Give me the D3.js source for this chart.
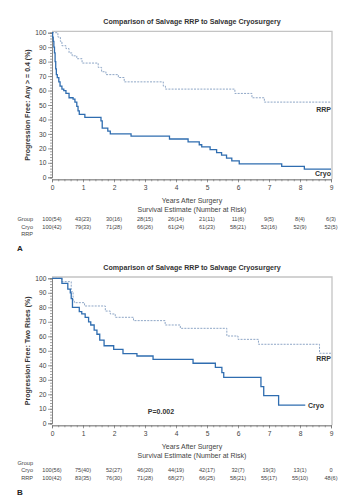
<!DOCTYPE html>
<html><head><meta charset="utf-8">
<script src="https://cdn.jsdelivr.net/npm/d3@7/dist/d3.min.js"></script>
<style>
body{margin:0;background:#fff;}
svg{display:block;font-family:"Liberation Sans",Arial,sans-serif;}
</style></head>
<body>
<svg id="c" width="358" height="500"></svg>
<script>
// ---- data ----
const years = [0,1,2,3,4,5,6,7,8,9];
const yTicks = [0,10,20,30,40,50,60,70,80,90,100];

// Panel A (PSA >= 0.4)
const cryoA = [[0,100],[0.02,97],[0.04,94],[0.06,90],[0.08,86],[0.10,80],[0.12,75],[0.14,71],[0.17,69],[0.22,66],[0.26,63],[0.32,61],[0.38,60],[0.45,58],[0.55,55],[0.68,54],[0.74,52],[0.80,49],[0.84,46],[0.88,43.5],[1.06,41.5],[1.58,39],[1.62,34],[1.8,32],[1.88,30],[2.55,28.5],[3.79,26.5],[4.39,24.5],[4.75,22.5],[4.83,21],[5.1,19.2],[5.31,17.1],[5.47,15.3],[5.63,13.3],[5.8,11.3],[6.04,9.3],[7.41,7.5],[8.14,5.7],[9.0,5.7]];
const rrpA = [[0,100],[0.19,97],[0.27,94],[0.32,91],[0.45,89],[0.55,86],[0.65,84],[0.8,82],[0.97,79],[1.49,76],[1.6,73],[1.74,71],[2.14,69],[2.33,66],[3.59,63],[3.66,61],[5.9,58],[6.45,55],[6.85,52],[9.0,52]];
const riskA_row1 = ["100(54)","43(23)","30(16)","28(15)","26(14)","21(11)","11(6)","9(5)","8(4)","6(3)"];
const riskA_row2 = ["100(42)","79(33)","71(28)","66(26)","61(24)","61(23)","58(21)","52(16)","52(9)","52(5)"];

// Panel B (two rises)
const cryoB = [[0,100],[0.32,96.5],[0.51,92.5],[0.59,90],[0.62,86],[0.66,80],[0.88,77],[0.96,75.4],[1.07,73],[1.18,70],[1.25,67.8],[1.36,64.3],[1.45,61.4],[1.54,57.4],[1.68,53.5],[1.99,51],[2.29,48],[2.74,46.4],[3.26,44.1],[4.55,41.4],[5.27,38.6],[5.48,34.9],[5.54,31.7],[6.74,25.3],[6.83,19.1],[7.31,12.6],[8.17,12.6]];
const rrpB = [[0,100],[0.32,97.7],[0.62,90.8],[0.68,84.3],[0.72,83.2],[1.05,80.9],[1.72,77.4],[1.88,75.4],[2.04,73.1],[2.63,70.8],[3.65,67.8],[4.14,65.5],[5.64,60.2],[6.0,57.9],[6.66,54.5],[8.63,48.3],[9.0,48.3]];
const riskB_cryo = ["100(56)","75(40)","52(27)","46(20)","44(19)","42(17)","32(7)","19(3)","13(1)","0"];
const riskB_rrp = ["100(42)","83(35)","76(30)","71(28)","68(27)","66(25)","58(21)","55(17)","55(10)","48(6)"];

const title = "Comparison of Salvage RRP to Salvage Cryosurgery";
const cryoColor = "#2f6db0", rrpColor = "#8ea6c6";

const svg = d3.select("#c");

function panel(o){
  const x = d3.scaleLinear().domain([0,9]).range([52,331]);
  const y = d3.scaleLinear().domain([0,100]).range([o.y0, o.y100]);
  const g = svg.append("g");
  // title
  g.append("text").attr("x",192).attr("y",o.titleY).attr("text-anchor","middle")
    .attr("font-size",7.1).attr("font-weight","bold").attr("fill","#333").text(title);
  // frame (top, right)
  const top = y(100)-1.3, bot = y(0)+2, right = x(9)+1;
  g.append("path").attr("d",`M${x(0)},${top}H${right}V${bot}`)
    .attr("fill","none").attr("stroke","#c4c4c4").attr("stroke-width",1.3);
  // y axis
  const ya = g.append("g").attr("transform",`translate(${x(0)},0)`);
  ya.call(d3.axisLeft(y).tickValues(d3.range(0,101,2)).tickSize(2).tickFormat(""));
  const yb = g.append("g").attr("transform",`translate(${x(0)},0)`);
  yb.call(d3.axisLeft(y).tickValues(yTicks).tickSize(4).tickPadding(1.5));
  [ya,yb].forEach(a=>{a.select(".domain").attr("stroke","#777").attr("stroke-width",0.7);
    a.selectAll("line").attr("stroke","#777").attr("stroke-width",0.7);
    a.selectAll("text").attr("font-size",6.7).attr("fill","#444").attr("font-family","Liberation Sans, Arial");});
  // x axis
  const xa = g.append("g").attr("transform",`translate(0,${bot})`);
  xa.call(d3.axisBottom(x).tickValues(d3.range(0,9.01,0.2)).tickSize(2).tickFormat(""));
  const xb = g.append("g").attr("transform",`translate(0,${bot})`);
  xb.call(d3.axisBottom(x).tickValues(years).tickSize(3).tickPadding(3));
  [xa,xb].forEach(a=>{a.select(".domain").attr("stroke","#777").attr("stroke-width",0.7);
    a.selectAll("line").attr("stroke","#777").attr("stroke-width",0.7);
    a.selectAll("text").attr("font-size",6.7).attr("fill","#444").attr("font-family","Liberation Sans, Arial");});
  // axis titles
  g.append("text").attr("transform",`translate(30,${(y(0)+y(100))/2}) rotate(-90)`)
    .attr("text-anchor","middle").attr("font-size",7).attr("font-weight","bold").attr("fill","#333").text(o.yTitle);
  g.append("text").attr("x",192).attr("y",o.xt1).attr("text-anchor","middle").attr("font-size",7).attr("fill","#444").text("Years After Surgery");
  g.append("text").attr("x",192).attr("y",o.xt2).attr("text-anchor","middle").attr("font-size",7).attr("fill","#444").text("Survival Estimate (Number at Risk)");
  // curves
  const line = d3.line().x(d=>x(d[0])).y(d=>y(d[1])).curve(d3.curveStepAfter);
  g.append("path").datum(o.rrp).attr("d",line).attr("fill","none").attr("stroke",rrpColor)
    .attr("stroke-width",1).attr("stroke-dasharray","2,1.2");
  g.append("path").datum(o.cryo).attr("d",line).attr("fill","none").attr("stroke",cryoColor)
    .attr("stroke-width",1.3);
  // curve labels
  o.labels.forEach(l=>g.append("text").attr("x",l[0]).attr("y",l[1]).attr("text-anchor","end")
    .attr("font-size",7).attr("font-weight","bold").attr("fill","#333").text(l[2]));
  if(o.p) g.append("text").attr("x",161).attr("y",o.p[1]).attr("text-anchor","middle")
    .attr("font-size",7).attr("font-weight","bold").attr("fill","#333").text(o.p[0]);
  // risk table
  o.rowLabels.forEach(r=>g.append("text").attr("x",33).attr("y",r[1]).attr("text-anchor","end")
    .attr("font-size",5.6).attr("fill","#444").text(r[0]));
  o.rows.forEach(r=>{
    g.selectAll(null).data(r[0]).enter().append("text")
      .attr("x",(d,i)=>x(years[i])).attr("y",r[1]).attr("text-anchor","middle")
      .attr("font-size",5.6).attr("fill","#444").text(d=>d);
  });
  g.append("text").attr("x",17).attr("y",o.letter[1]).attr("font-size",8).attr("font-weight","bold").attr("fill","#222").text(o.letter[0]);
}

panel({y0:177.3,y100:32.7,titleY:23.5,yTitle:"Progression Free: Any > = 0.4 (%)",xt1:202.5,xt2:211.5,
  cryo:cryoA,rrp:rrpA,labels:[[331,112,"RRP"],[331,176,"Cryo"]],
  rowLabels:[["Group",220.8],["Cryo",228.8],["RRP",235.5]],
  rows:[[riskA_row1,220.8],[riskA_row2,228.8]],letter:["A",251]});

panel({y0:423.3,y100:278.3,titleY:270,yTitle:"Progression Free: Two Rises (%)",xt1:448.5,xt2:457.5,
  cryo:cryoB,rrp:rrpB,labels:[[331,361,"RRP"],[324,407.5,"Cryo"]],p:["P=0.002",414],
  rowLabels:[["Group",464.5],["Cryo",471.5],["RRP",479.5]],
  rows:[[riskB_cryo,471.5],[riskB_rrp,479.5]],letter:["B",494.5]});
</script>
</body></html>
